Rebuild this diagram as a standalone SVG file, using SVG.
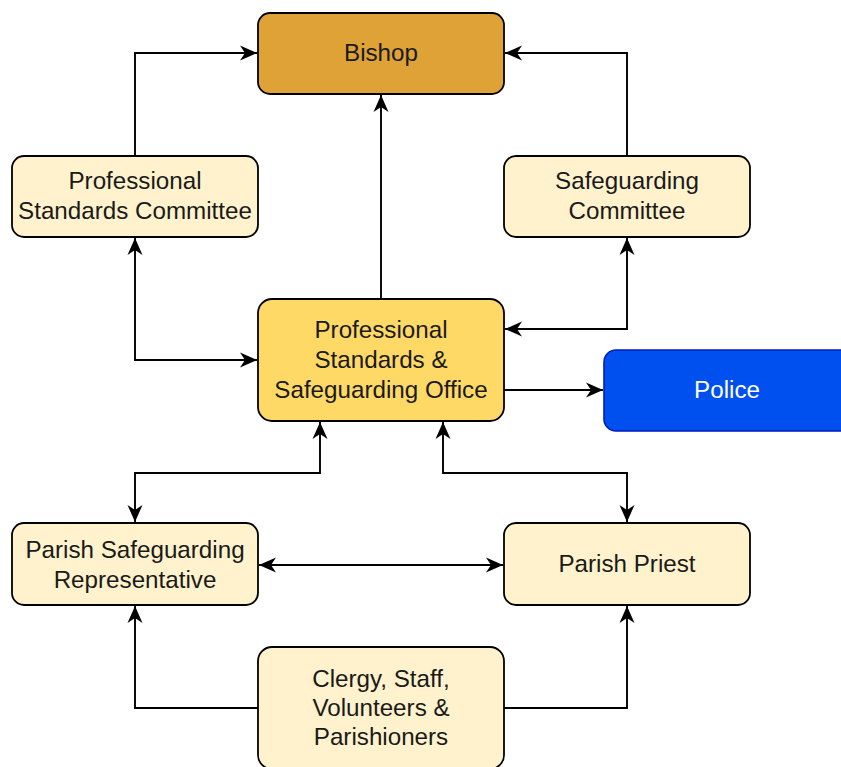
<svg xmlns="http://www.w3.org/2000/svg" width="841" height="767" viewBox="0 0 841 767">
<style>
.box{stroke:#000;stroke-width:1.8}
.light{fill:#FFF2CC}
.t{font-family:"Liberation Sans",Arial,sans-serif;font-size:24.2px;fill:#1a1a1a;text-anchor:middle}
.w{fill:#fff}
.c{fill:none;stroke:#000;stroke-width:1.9}
</style>
<defs>
<marker id="a" markerUnits="userSpaceOnUse" markerWidth="18" markerHeight="16" viewBox="0 0 18 16" refX="17" refY="8" orient="auto-start-reverse">
<path d="M0,0.5 L17,8 L0,15.5 L5,8 Z" fill="#000"/>
</marker>
</defs>
<g id="connectors">
<path class="c" d="M135,156 V53 H257" marker-end="url(#a)"/>
<path class="c" d="M627,156 V53 H505" marker-end="url(#a)"/>
<path class="c" d="M381,299 V95" marker-end="url(#a)"/>
<path class="c" d="M135,238 V360 H257" marker-start="url(#a)" marker-end="url(#a)"/>
<path class="c" d="M627,238 V329 H505" marker-start="url(#a)" marker-end="url(#a)"/>
<path class="c" d="M504,390 H603" marker-end="url(#a)"/>
<path class="c" d="M320,422 V473 H135 V522" marker-start="url(#a)" marker-end="url(#a)"/>
<path class="c" d="M443,422 V473 H627 V522" marker-start="url(#a)" marker-end="url(#a)"/>
<path class="c" d="M259,565 H503" marker-start="url(#a)" marker-end="url(#a)"/>
<path class="c" d="M258,708 H135 V606" marker-end="url(#a)"/>
<path class="c" d="M504,708 H627 V606" marker-end="url(#a)"/>
</g>
<g id="bishop">
<rect class="box" x="258" y="13" width="246" height="81" rx="12" fill="#DFA237"/>
<text class="t" x="381" y="61">Bishop</text>
</g>
<g id="psc">
<rect class="box light" x="12" y="156" width="246" height="81" rx="12"/>
<text class="t" x="135" y="189">Professional</text>
<text class="t" x="135" y="219">Standards Committee</text>
</g>
<g id="sc">
<rect class="box light" x="504" y="156" width="246" height="81" rx="12"/>
<text class="t" x="627" y="189">Safeguarding</text>
<text class="t" x="627" y="219">Committee</text>
</g>
<g id="psso">
<rect class="box" x="258" y="299" width="246" height="122" rx="14" fill="#FFD966"/>
<text class="t" x="381" y="338">Professional</text>
<text class="t" x="381" y="368">Standards &amp;</text>
<text class="t" x="381" y="398">Safeguarding Office</text>
</g>
<g id="police">
<rect x="604" y="350" width="250" height="81" rx="12" fill="#0050EF" stroke="#001DBC" stroke-width="1.6"/>
<text class="t w" x="727" y="398">Police</text>
</g>
<g id="psr">
<rect class="box light" x="12" y="523" width="246" height="82" rx="12"/>
<text class="t" x="135" y="558">Parish Safeguarding</text>
<text class="t" x="135" y="588">Representative</text>
</g>
<g id="pp">
<rect class="box light" x="504" y="523" width="246" height="82" rx="12"/>
<text class="t" x="627" y="572">Parish Priest</text>
</g>
<g id="clergy">
<rect class="box light" x="258" y="647" width="246" height="122" rx="14"/>
<text class="t" x="381" y="687">Clergy, Staff,</text>
<text class="t" x="381" y="716">Volunteers &amp;</text>
<text class="t" x="381" y="745">Parishioners</text>
</g>
</svg>
